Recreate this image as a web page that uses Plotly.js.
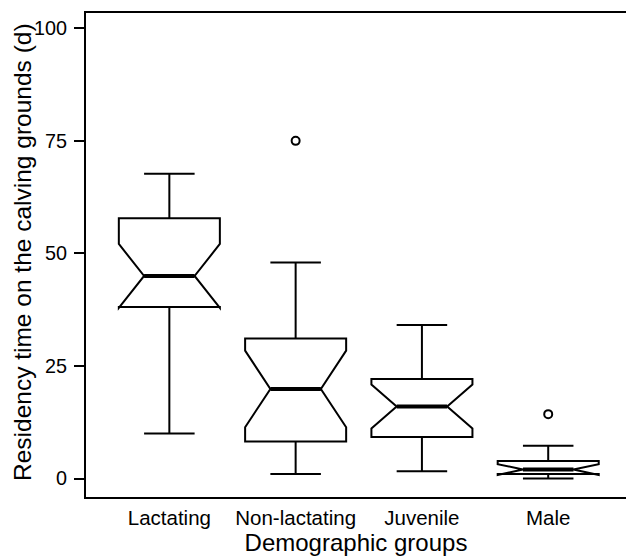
<!DOCTYPE html>
<html>
<head>
<meta charset="utf-8">
<script src="https://cdn.plot.ly/plotly-3.0.1.min.js"></script>
<style>
  html, body { margin: 0; padding: 0; background: #fff; }
  #chart { width: 626px; height: 557px; }
</style>
</head>
<body>
<div id="chart"></div>
<script>
// Residency time (days) per demographic group, as box summaries
var groups = ['Lactating', 'Non-lactating', 'Juvenile', 'Male'];
var lowerWhisker = [10.0, 1.0, 1.6, 0.0];
var q1 = [38.1, 8.2, 9.2, 1.0];
var median = [45.0, 19.9, 16.0, 2.0];
var q3 = [57.8, 31.1, 22.1, 3.9];
var upperWhisker = [67.7, 48.0, 34.1, 7.3];
var notchSpan = [7.1, 8.5, 4.9, 1.2];

// Points beyond the whiskers
var outlierGroups = ['Non-lactating', 'Male'];
var outlierValues = [75, 14.3];

var yTicks = [0, 25, 50, 75, 100];

var boxWidth = 0.8;
var notchWidth = 0.25;
var positions = groups.map(function (g, i) { return i; });

var boxTrace = {
  type: 'box',
  x: positions,
  q1: q1,
  median: median,
  q3: q3,
  lowerfence: lowerWhisker,
  upperfence: upperWhisker,
  notched: true,
  notchspan: notchSpan,
  notchwidth: notchWidth,
  whiskerwidth: 0.5,
  width: boxWidth,
  boxpoints: false,
  fillcolor: 'rgba(255,255,255,0)',
  line: { color: '#000', width: 2 },
  hoverinfo: 'skip',
  showlegend: false
};

// Heavier median bars spanning the narrow waist of each notch
var medX = [], medY = [];
median.forEach(function (m, i) {
  var half = boxWidth / 2 * (1 - 2 * notchWidth);
  medX.push(positions[i] - half, positions[i] + half, null);
  medY.push(m, m, null);
});
var medianTrace = {
  type: 'scatter',
  mode: 'lines',
  x: medX,
  y: medY,
  line: { color: '#000', width: 4 },
  hoverinfo: 'skip',
  showlegend: false
};

var outlierTrace = {
  type: 'scatter',
  mode: 'markers',
  x: outlierGroups.map(function (g) { return groups.indexOf(g); }),
  y: outlierValues,
  marker: { symbol: 'circle-open', size: 8, color: '#000', line: { width: 2, color: '#000' } },
  hoverinfo: 'skip',
  showlegend: false
};

var font = 'Liberation Sans, Arial, Helvetica, sans-serif';

var layout = {
  width: 626,
  height: 557,
  margin: { l: 86, r: 0, t: 13, b: 60 },
  paper_bgcolor: '#fff',
  plot_bgcolor: '#fff',
  font: { family: font, color: '#000' },
  showlegend: false,
  xaxis: {
    type: 'linear',
    range: [-0.66, 3.616],
    tickvals: positions,
    ticktext: groups,
    ticks: '',
    ticklabelstandoff: 1,
    tickfont: { size: 20.5, color: '#000' },
    showgrid: false,
    zeroline: false,
    showline: true,
    mirror: true,
    linecolor: '#000',
    linewidth: 2,
    title: { text: 'Demographic groups', font: { size: 24, color: '#000' }, standoff: 2 }
  },
  yaxis: {
    range: [-4.1, 103.4],
    tickvals: yTicks,
    ticks: 'outside',
    ticklen: 10,
    tickwidth: 2,
    tickcolor: '#000',
    ticklabelstandoff: 3,
    tickfont: { size: 19.8, color: '#000' },
    showgrid: false,
    zeroline: false,
    showline: true,
    linecolor: '#000',
    linewidth: 2
  },
  // Vertical axis title, placed as a rotated label left of the tick numbers
  annotations: [{
    text: 'Residency time on the calving grounds (d)',
    textangle: -90,
    xref: 'paper', yref: 'paper',
    x: 0, y: 0.5,
    xanchor: 'center', yanchor: 'middle',
    xshift: -64, yshift: 3,
    showarrow: false,
    font: { size: 24.5, color: '#000', family: font }
  }]
};

Plotly.newPlot('chart', [boxTrace, medianTrace, outlierTrace], layout, { displayModeBar: false, staticPlot: true });
</script>
</body>
</html>
